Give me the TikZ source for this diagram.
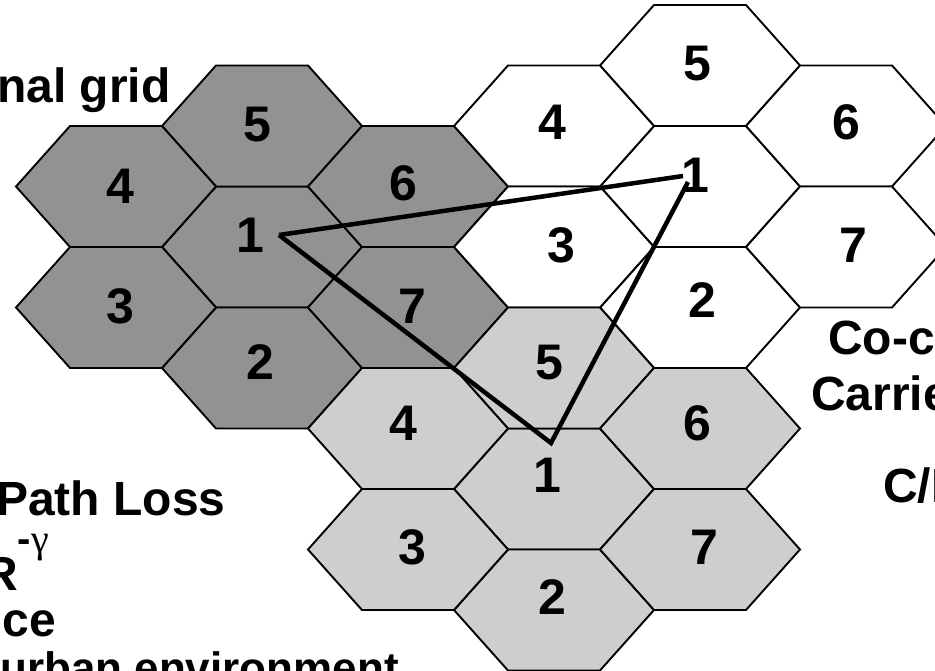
\documentclass[tikz,border=0pt]{standalone}
\usepackage{fontspec}
\setmainfont{Liberation Sans}
\newfontfamily\gfont{Liberation Serif}
\definecolor{darkcell}{RGB}{146,146,146}
\definecolor{lightcell}{RGB}{206,206,206}
\newcommand{\hexcell}[5]{%
  \begin{scope}[shift={#2}]
    \filldraw[hexedge, fill=#3] (-100,0) -- (-46,-60.5) -- (46,-60.5) -- (100,0) -- (46,60.5) -- (-46,60.5) -- cycle;
    \node[digit] (#1) at #5 {#4};
  \end{scope}}
\begin{document}
\begin{tikzpicture}[x=1pt,y=-1pt,
  hexedge/.style={draw=black, line width=1.9pt, line join=miter},
  digit/.style={font=\fontsize{50}{50}\selectfont\bfseries, inner sep=0pt},
  lbl/.style={font=\fontsize{48}{52}\selectfont\bfseries, inner sep=0pt, anchor=base west},
  link/.style={draw=black, line width=4.5pt, line join=miter, line cap=butt}]
\useasboundingbox (0,0) rectangle (935,671);
\fill[white] (0,0) rectangle (935,671);
\clip (0,0) rectangle (935,671);
% dark grey cluster
\hexcell{d1}{(262,247)}{darkcell}{1}{(-12,-12)}
\hexcell{d5}{(262,126)}{darkcell}{5}{(-5,-1)}
\hexcell{d2}{(262,368)}{darkcell}{2}{(-2,-6)}
\hexcell{d4}{(116,186.5)}{darkcell}{4}{(4,0)}
\hexcell{d6}{(408,186.5)}{darkcell}{6}{(-5,-3)}
\hexcell{d3}{(116,307.5)}{darkcell}{3}{(4,-1)}
\hexcell{d7}{(408,307.5)}{darkcell}{7}{(4,-1)}
% white cluster
\hexcell{w1}{(700,186.5)}{white}{1}{(-5,-11)}
\hexcell{w5}{(700,65.5)}{white}{5}{(-3,-2)}
\hexcell{w2}{(700,307.5)}{white}{2}{(2,-7)}
\hexcell{w4}{(554,126)}{white}{4}{(-2,-4)}
\hexcell{w6}{(846,126)}{white}{6}{(0,-4)}
\hexcell{w3}{(554,247)}{white}{3}{(7,-2)}
\hexcell{w7}{(846,247)}{white}{7}{(7,-2)}
% light grey cluster
\hexcell{l1}{(554,489)}{lightcell}{1}{(-7,-14)}
\hexcell{l5}{(554,368)}{lightcell}{5}{(-5,-5)}
\hexcell{l2}{(554,610)}{lightcell}{2}{(-2,-13)}
\hexcell{l4}{(408,428.5)}{lightcell}{4}{(-5,-5)}
\hexcell{l6}{(700,428.5)}{lightcell}{6}{(-3,-5)}
\hexcell{l3}{(408,549.5)}{lightcell}{3}{(4,-2)}
\hexcell{l7}{(700,549.5)}{lightcell}{7}{(4,-2)}
% interference lines
\coordinate (pA) at (279,235);
\coordinate (pB) at (683,176);
\coordinate (pC) at (551,443);
\coordinate (pD) at (688,182);
\draw[link] (pA) -- (pB);
\draw[link] (pA) -- (pC) -- (pD);
% texts
\node[lbl] (t1) at (-3,103) {nal grid};
\node[lbl] (t2) at (-4,515) {Path Loss};
\node[lbl] (t3) at (-17,590) {R\raisebox{38pt}{\fontsize{40}{40}\selectfont -{\gfont\mdseries γ}}};
\node[lbl] (t4) at (-27,636) {nce};
\node[lbl, font=\fontsize{44}{46}\selectfont\bfseries] (t5) at (0,683) {urban environment};
\node[lbl] (t6) at (828,354) {Co-c};
\node[lbl] (t7) at (811,410) {Carrie};
\node[lbl] (t8) at (883,502) {C/I};
\end{tikzpicture}
\end{document}
